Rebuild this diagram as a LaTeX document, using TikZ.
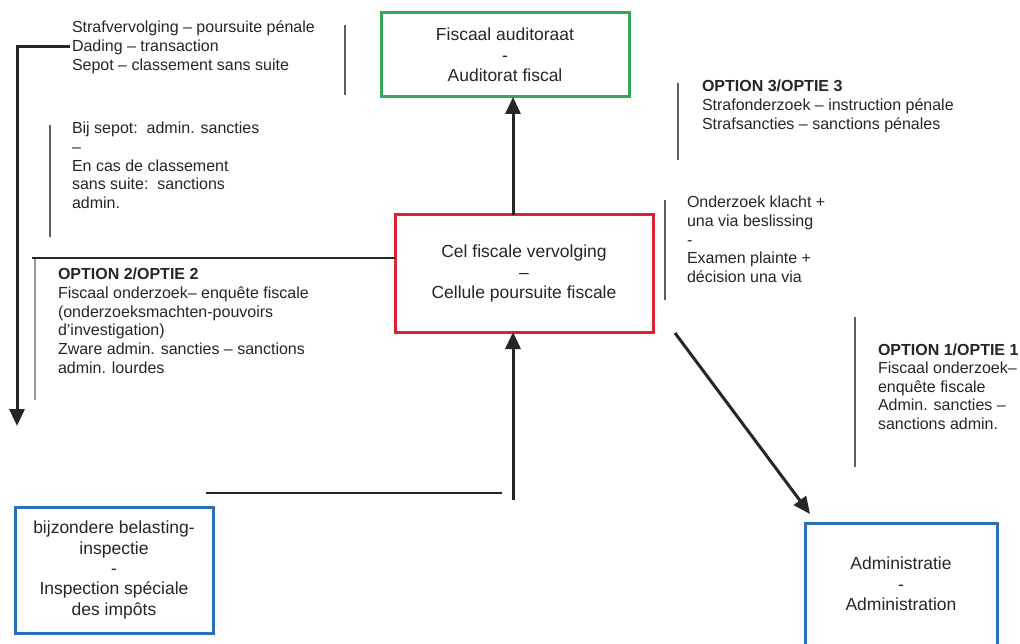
\documentclass[tikz,border=0pt]{standalone}
\usepackage{fontspec}
\setmainfont{Liberation Sans}
\usetikzlibrary{arrows.meta}
\definecolor{boxred}{RGB}{222,32,48}
\definecolor{boxgreen}{RGB}{52,168,84}
\definecolor{boxblue}{RGB}{42,112,184}
\definecolor{linegray}{RGB}{95,95,95}
\definecolor{lightgray2}{RGB}{150,150,150}
\tikzset{
  box/.style={draw, line width=3pt, outer sep=0pt, inner sep=0pt, align=center,
    font=\fontsize{17.5}{20.3}\selectfont, text=black!85},
  ann/.style={anchor=north west, inner sep=0pt, outer sep=0pt, align=left,
    font=\fontsize{16}{18.6}\selectfont, text=black!85},
  conn/.style={line width=3pt, black!85, -{Triangle[length=17pt,width=15pt]}},
  plain/.style={line width=2.6pt, black!85},
  sep/.style={line width=1.4pt, linegray},
}
\begin{document}
\begin{tikzpicture}[x=1pt,y=-1pt]
\clip (0,0) rectangle (1020,644);
\fill[white] (0,0) rectangle (1020,644);

% boxes
\node[box, draw=boxgreen, minimum width=248pt, minimum height=84pt] (green) at (505,55)
  {Fiscaal auditoraat\\-\\Auditorat fiscal};
\node[box, draw=boxred, minimum width=258pt, minimum height=117pt] (red) at (524,273.5)
  {Cel fiscale vervolging\\–\\Cellule poursuite fiscale};
\node[box, draw=boxblue, minimum width=198pt, minimum height=126pt] (bbi) at (114,570)
  {bijzondere belasting-\\inspectie\\-\\Inspection spéciale\\des impôts};
\node[box, draw=boxblue, minimum width=192pt, minimum height=122pt] (adm) at (901,584)
  {Administratie\\-\\Administration};

% annotations
\node[ann] (t1) at (72,17) {\rule{0pt}{16pt}Strafvervolging – poursuite pénale\\Dading – transaction\\Sepot – classement sans suite};
\node[ann] (t2) at (72,118) {\rule{0pt}{16pt}Bij sepot:\ \ admin. sancties\\–\\En cas de classement\\sans suite:\ \ sanctions\\admin.};
\node[ann] (t3) at (58,264) {\rule{0pt}{16pt}\textbf{OPTION 2/OPTIE 2}\\Fiscaal onderzoek– enquête fiscale\\(onderzoeksmachten-pouvoirs\\d'investigation)\\Zware admin. sancties – sanctions\\admin. lourdes};
\node[ann] (t4) at (702,76) {\rule{0pt}{16pt}\textbf{OPTION 3/OPTIE 3}\\Strafonderzoek – instruction pénale\\Strafsancties – sanctions pénales};
\node[ann] (t5) at (687,192) {\rule{0pt}{16pt}Onderzoek klacht +\\una via beslissing\\-\\Examen plainte +\\décision una via};
\node[ann] (t6) at (878,339) {\rule{0pt}{16pt}\textbf{OPTION 1/OPTIE 1}\\Fiscaal onderzoek–\\enquête fiscale\\Admin. sancties –\\sanctions admin.};

% separator lines
\draw[sep] (345,25) -- (345,95);
\draw[sep] (50,125) -- (50,237);
\draw[sep, lightgray2, line width=2pt] (35,258) -- (35,400);
\draw[sep] (678,83) -- (678,160);
\draw[sep] (665,200) -- (665,300);
\draw[sep] (855,317) -- (855,467);

% connectors
\coordinate (up1) at (513,215);
\draw[conn] (up1 |- red.north) -- (up1 |- green.south);

\coordinate (c1) at (70,47);
\coordinate (c2) at (17,47);
\coordinate (c3) at (17,426);
\draw[conn] (c1) -- (c2) -- (c3);

\coordinate (h1) at (32,258);
\draw[plain] (h1) -- (h1 -| red.west);

\coordinate (b1) at (206,493);
\coordinate (b2) at (502,493);
\draw[plain] (b1) -- (b2);
\coordinate (v1) at (513,500);
\draw[conn] (v1) -- (v1 |- red.south);

\coordinate (d1) at (675,333);
\coordinate (d2) at (810,514);
\draw[conn] (d1) -- (d2);
\end{tikzpicture}
\end{document}
